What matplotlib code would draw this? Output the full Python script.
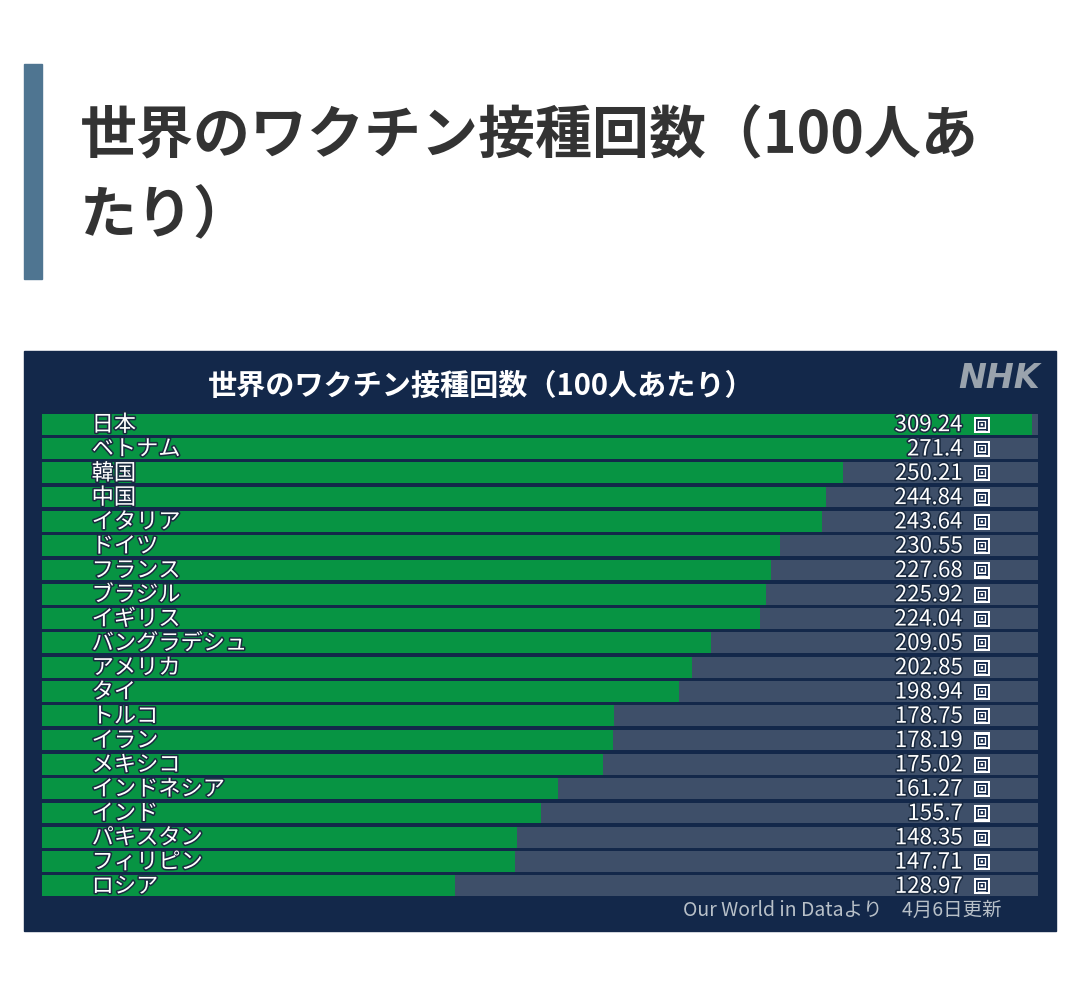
import matplotlib
matplotlib.use("Agg")
import matplotlib.pyplot as plt
import matplotlib.patheffects as pe
from matplotlib.patches import Rectangle

plt.rcParams['font.family'] = ['Noto Sans CJK JP', 'DejaVu Sans']

countries = ['日本', 'ベトナム', '韓国', '中国', 'イタリア', 'ドイツ', 'フランス', 'ブラジル',
             'イギリス', 'バングラデシュ', 'アメリカ', 'タイ', 'トルコ', 'イラン', 'メキシコ',
             'インドネシア', 'インド', 'パキスタン', 'フィリピン', 'ロシア']
values = [309.24, 271.4, 250.21, 244.84, 243.64, 230.55, 227.68, 225.92, 224.04, 209.05,
          202.85, 198.94, 178.75, 178.19, 175.02, 161.27, 155.7, 148.35, 147.71, 128.97]
value_labels = ['309.24', '271.4', '250.21', '244.84', '243.64', '230.55', '227.68', '225.92',
                '224.04', '209.05', '202.85', '198.94', '178.75', '178.19', '175.02', '161.27',
                '155.7', '148.35', '147.71', '128.97']

W, H = 1080, 995
fig = plt.figure(figsize=(W / 100, H / 100), dpi=100)
fig.patch.set_facecolor('white')

def fx(px):
    return px / W

def fy(py):
    return 1 - py / H

# left accent bar and page title
fig.patches.append(Rectangle((fx(24), fy(280)), fx(18), (280 - 65) / H,
                             transform=fig.transFigure, color='#4f7591', zorder=-2))
fig.text(fx(80), fy(136), '世界のワクチン接種回数（100人あ', fontsize=41, fontweight='bold',
         color='#333333', va='center')
fig.text(fx(80), fy(216), 'たり）', fontsize=41, fontweight='bold', color='#333333', va='center')

# dark panel
fig.patches.append(Rectangle((fx(24), fy(932)), (1056 - 24) / W, (932 - 352) / H,
                             transform=fig.transFigure, color='#13284a', zorder=-2))
fig.text(fx(481), fy(386), '世界のワクチン接種回数（100人あたり）', fontsize=21, fontweight='bold',
         color='white', ha='center', va='center')
fig.text(fx(1040), fy(378), 'NHK', fontsize=24, fontweight='bold', fontstyle='italic',
         color='#9aa3ad', ha='right', va='center', family='DejaVu Sans')
fig.text(fx(1002), fy(910), 'Our World in Dataより　4月6日更新', fontsize=14,
         color='#b8c0c8', ha='right', va='center')

# bars
ax = fig.add_axes([fx(42), fy(899), (1038 - 42) / W, (899 - 413) / H])
ax.set_facecolor('none')
xmax = 311
n = len(countries)
ys = list(range(n))
ax.barh(ys, [xmax] * n, height=0.86, color='#3e4f69', left=0)
ax.barh(ys, values, height=0.86, color='#079443')
ax.set_xlim(0, xmax)
ax.set_ylim(n - 0.5, -0.5)
ax.axis('off')

stroke = [pe.withStroke(linewidth=2.2, foreground='#1a2a40')]
for i, (c, lab) in enumerate(zip(countries, value_labels)):
    ax.text(15.5, i + 0.02, c, fontsize=16, color='white', va='center', ha='left',
            path_effects=stroke)
    ax.text(287.5, i + 0.02, lab, fontsize=16, color='white', va='center', ha='right',
            path_effects=stroke)
    ax.text(293.5, i + 0.02, '回', fontsize=10, color='#13284a', va='center', ha='center',
            fontweight='bold',
            bbox=dict(boxstyle='square,pad=0.08', fc='white', ec='none'))

fig.savefig('out.png', dpi=100, facecolor='white')
